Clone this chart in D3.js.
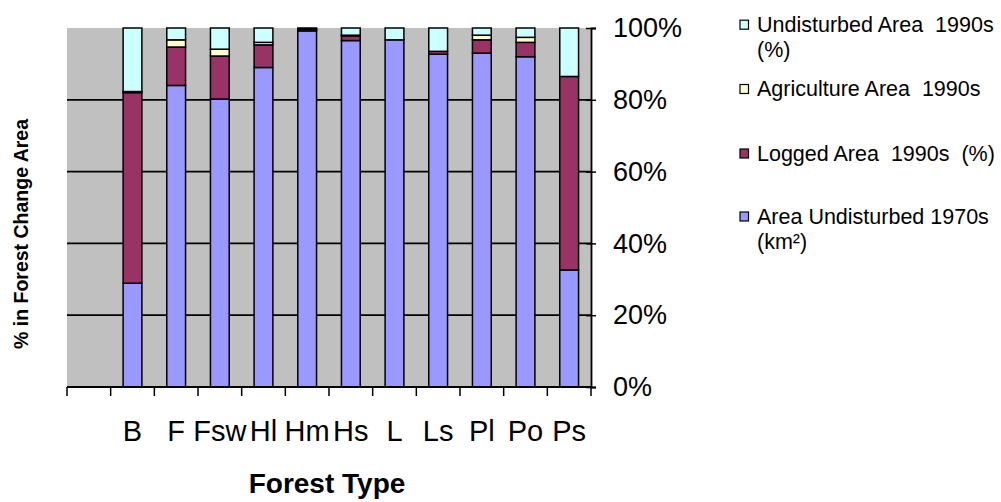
<!DOCTYPE html>
<html>
<head>
<meta charset="utf-8">
<script src="https://cdn.jsdelivr.net/npm/d3@7"></script>
<style>
  body { margin: 0; background: #fff; }
  text { font-family: "Liberation Sans", Arial, sans-serif; fill: #000; }
</style>
</head>
<body>
<div id="chart"></div>
<script>
// forest types (first slot is empty in the original chart)
let categories = ["", "B", "F", "Fsw", "Hl", "Hm", "Hs", "L", "Ls", "Pl", "Po", "Ps"]

// percent of forest change area
let areaUndisturbed1970 = [0, 28.9, 84, 80.2, 89, 99.2, 96.5, 96.7, 92.7, 93, 92, 32.6]
let logged1990 = [0, 53.1, 10.7, 12, 6.3, 0.5, 1.3, 0, 0.8, 3.7, 4, 53.9]
let agriculture1990 = [0, 0.3, 2, 1.9, 0.7, 0.1, 0.2, 0, 0, 1.3, 1.4, 0]
let undisturbed1990 = [0, 17.7, 3.3, 5.9, 4, 0.2, 2, 3.3, 6.5, 2, 2.6, 13.5]

let yTicks = [0, 0.2, 0.4, 0.6, 0.8, 1]

let keys = ["a70", "log", "agr", "u90"]
let colors = { a70: "#9999ff", log: "#993366", agr: "#ffffcc", u90: "#ccffff" }

// legend order (top to bottom) as in the picture
let legendItems = [
    { key: "u90", lines: ["Undisturbed Area  1990s", "(%)"], y: 31.7 },
    { key: "agr", lines: ["Agriculture Area  1990s"], y: 96 },
    { key: "log", lines: ["Logged Area  1990s  (%)"], y: 160.5 },
    { key: "a70", lines: ["Area Undisturbed 1970s", "(km\u00b2)"], y: 223.5 }
]

let rows = categories.map((c, i) => ({
    cat: c,
    a70: areaUndisturbed1970[i],
    log: logged1990[i],
    agr: agriculture1990[i],
    u90: undisturbed1990[i]
}))

var margin = { top: 28, left: 67, plotRight: 591, bottom: 387 }

let svg = d3.select("#chart")
    .append("svg")
    .attr("width", 1001)
    .attr("height", 502)

let x = d3.scaleBand()
    .domain(categories)
    .range([margin.left, margin.plotRight])
    .padding(0)

let y = d3.scaleLinear()
    .domain([0, 1])
    .range([margin.bottom, margin.top])

// grey plot area
svg.append("rect")
    .attr("x", margin.left)
    .attr("y", margin.top)
    .attr("width", margin.plotRight - margin.left)
    .attr("height", margin.bottom - margin.top)
    .attr("fill", "#c0c0c0")

// grid lines
svg.append("g")
    .selectAll("line")
    .data(yTicks.filter(t => t > 0 && t < 1))
    .enter()
    .append("line")
    .attr("x1", margin.left)
    .attr("x2", margin.plotRight)
    .attr("y1", d => y(d))
    .attr("y2", d => y(d))
    .attr("stroke", "#000")
    .attr("stroke-width", 1.8)

// stacked bars, expanded to 100%
let stack = d3.stack().keys(keys).offset(d3.stackOffsetExpand)
let series = stack(rows.filter(r => r.a70 + r.log + r.agr + r.u90 > 0))

let barW = x.bandwidth() * 0.43

svg.append("g")
    .selectAll("g")
    .data(series)
    .enter()
    .append("g")
    .attr("fill", d => colors[d.key])
    .selectAll("rect")
    .data(d => d.filter(s => s[1] - s[0] > 0))
    .enter()
    .append("rect")
    .attr("x", d => x(d.data.cat) + (x.bandwidth() - barW) / 2)
    .attr("y", d => y(d[1]))
    .attr("width", barW)
    .attr("height", d => y(d[0]) - y(d[1]))
    .attr("stroke", "#000")
    .attr("stroke-width", 1.5)

// bottom axis: line + ticks on band edges
let edges = categories.map(c => x(c)).concat([margin.plotRight])
svg.append("line")
    .attr("x1", margin.left)
    .attr("x2", margin.plotRight)
    .attr("y1", margin.bottom)
    .attr("y2", margin.bottom)
    .attr("stroke", "#000")
    .attr("stroke-width", 1.8)
svg.append("g")
    .selectAll("line")
    .data(edges)
    .enter()
    .append("line")
    .attr("x1", d => d)
    .attr("x2", d => d)
    .attr("y1", margin.bottom)
    .attr("y2", margin.bottom + 9)
    .attr("stroke", "#000")
    .attr("stroke-width", 1.5)

let xAxis = svg.append("g")
    .attr("transform", "translate(0," + margin.bottom + ")")
    .call(d3.axisBottom(x).tickSize(0).tickPadding(33))
xAxis.select(".domain").remove()
xAxis.selectAll("text")
    .style("font-size", "29px")
    .style("font-family", "'Liberation Sans', Arial, sans-serif")
    .attr("fill", "#000")

// right axis with percent labels
let yAxis = svg.append("g")
    .attr("transform", "translate(" + margin.plotRight + ",0)")
    .call(d3.axisRight(y).tickValues(yTicks).tickFormat(d3.format(".0%")).tickSize(5).tickPadding(17))
yAxis.select(".domain").attr("stroke-width", 1.8)
yAxis.selectAll(".tick line").attr("x1", -5).attr("stroke-width", 1.5)
yAxis.selectAll("text")
    .style("font-size", "27px")
    .style("font-family", "'Liberation Sans', Arial, sans-serif")
    .attr("fill", "#000")

// axis titles
svg.append("text")
    .attr("transform", "translate(27.5,234) rotate(-90)")
    .attr("text-anchor", "middle")
    .style("font-size", "19.5px")
    .style("font-weight", "bold")
    .text("% in Forest Change Area")

svg.append("text")
    .attr("x", 327)
    .attr("y", 493)
    .attr("text-anchor", "middle")
    .style("font-size", "28px")
    .style("font-weight", "bold")
    .text("Forest Type")

// legend
let legend = svg.append("g")
legendItems.forEach(item => {
    legend.append("rect")
        .attr("x", 740)
        .attr("y", item.y - 11.5)
        .attr("width", 8.5)
        .attr("height", 9)
        .attr("fill", colors[item.key])
        .attr("stroke", "#000")
        .attr("stroke-width", 1.2)
    item.lines.forEach((ln, j) => {
        legend.append("text")
            .attr("x", 757)
            .attr("y", item.y + j * 25)
            .style("font-size", "21.5px")
            .style("white-space", "pre")
            .text(ln)
    })
})
</script>
</body>
</html>
